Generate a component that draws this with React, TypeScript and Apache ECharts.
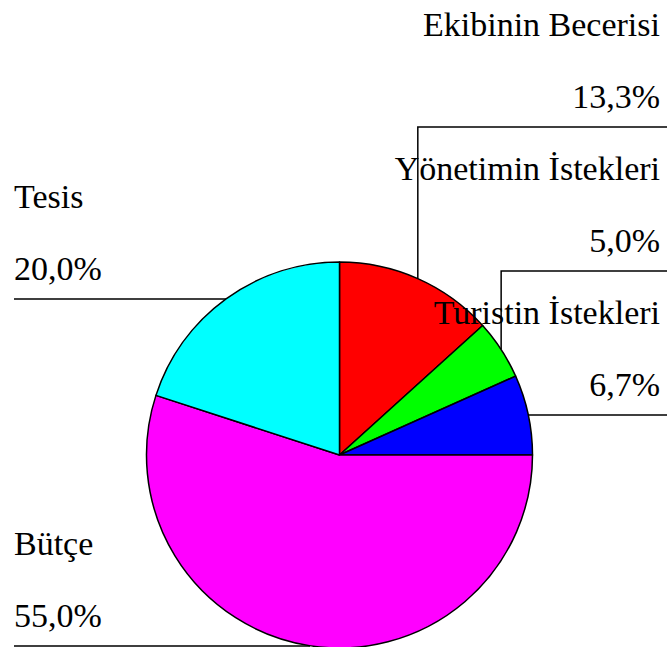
import React, { useEffect, useRef } from "react";
import * as echarts from "echarts";

const categories = [
  "Ekibinin Becerisi",
  "Yönetimin İstekleri",
  "Turistin İstekleri",
  "Bütçe",
  "Tesis",
];
const values = [13.3, 5.0, 6.7, 55.0, 20.0];
const colors = ["#FF0000", "#00FF00", "#0000FF", "#FF00FF", "#00FFFF"];

// label layout (placement only)
const labelSide = ["right", "right", "right", "left", "left"];
const labelLineY = [127, 271, 415, 646, 299];

const W = 667;
const H = 647;
const CX = 339.5;
const CY = 455;
const R = 193;
const FONT = "Liberation Serif";

function edgePoint(i: number): [number, number] {
  const total = values.reduce((a, b) => a + b, 0);
  let acc = 0;
  for (let k = 0; k < i; k++) acc += values[k];
  const mid = ((acc + values[i] / 2) / total) * Math.PI * 2;
  return [CX + R * Math.sin(mid), CY - R * Math.cos(mid)];
}

function buildOption() {
  return {
    animation: false,
    backgroundColor: "#FFFFFF",
    textStyle: { fontFamily: FONT },
    series: [
      {
        type: "pie",
        center: [CX, CY],
        radius: R,
        startAngle: 90,
        clockwise: true,
        avoidLabelOverlap: false,
        emphasis: { disabled: true },
        itemStyle: { borderColor: "#000000", borderWidth: 1.5 },
        label: {
          show: true,
          position: "outside",
          fontFamily: FONT,
          fontSize: 34,
          color: "#000000",
          lineHeight: 72,
          formatter: (p: any) =>
            p.name + "\n" + Number(p.value).toFixed(1).replace(".", ",") + "%",
        },
        labelLine: {
          show: true,
          length: 10,
          length2: 10,
          lineStyle: { color: "#000000", width: 1.5 },
        },
        labelLayout: (params: any) => {
          const i = params.dataIndex;
          const pts = params.labelLinePoints;
          const p: [number, number] =
            pts && pts[0] ? [pts[0][0], pts[0][1]] : edgePoint(i);
          const ly = labelLineY[i];
          if (labelSide[i] === "right") {
            return {
              x: 660,
              y: ly + 5.5,
              align: "right",
              verticalAlign: "bottom",
              labelLinePoints: [p, [p[0], ly], [W, ly]],
            };
          }
          return {
            x: 14,
            y: ly + 5.5,
            align: "left",
            verticalAlign: "bottom",
            labelLinePoints: [p, [p[0], ly], [14, ly]],
          };
        },
        data: categories.map((name, i) => ({
          name,
          value: values[i],
          itemStyle: { color: colors[i] },
        })),
      },
    ],
  };
}

export default function App() {
  const ref = useRef<HTMLDivElement>(null);
  useEffect(() => {
    document.body.style.margin = "0";
    if (!ref.current) return;
    let disposed = false;
    const chart = echarts.init(ref.current, null, { renderer: "svg" });
    chart.setOption(buildOption() as any, true);
    const fonts = (document as any).fonts;
    if (fonts && fonts.load) {
      fonts
        .load('34px "' + FONT + '"')
        .then(() => {
          if (disposed) return;
          chart.clear();
          chart.setOption(buildOption() as any, true);
        })
        .catch(() => {});
    }
    return () => {
      disposed = true;
      chart.dispose();
    };
  }, []);
  return <div ref={ref} style={{ width: W, height: H, fontFamily: FONT }} />;
}
